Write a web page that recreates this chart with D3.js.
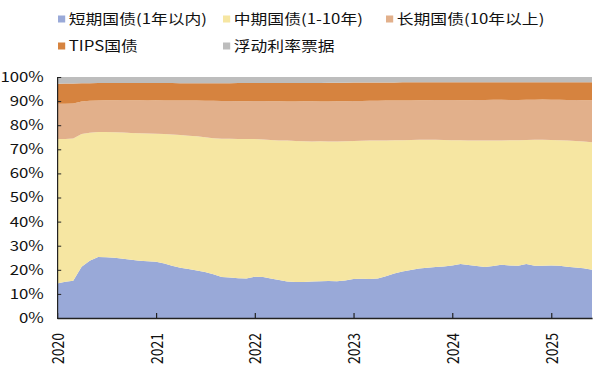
<!DOCTYPE html>
<html>
<head>
<meta charset="utf-8">
<script src="https://cdn.jsdelivr.net/npm/d3@7"></script>
<style>
  html, body { margin: 0; padding: 0; background: #fff; }
  svg { display: block; font-family: "Noto Sans CJK SC", "Noto Sans", sans-serif; }
</style>
</head>
<body>
<div id="chart"></div>
<script>
// ------------------------------------------------------------
// 美国国债存量期限结构 (100% stacked area, monthly)
// ------------------------------------------------------------

const months = [
  '2020-01','2020-02','2020-03','2020-04','2020-05','2020-06','2020-07','2020-08','2020-09','2020-10','2020-11','2020-12',
  '2021-01','2021-02','2021-03','2021-04','2021-05','2021-06','2021-07','2021-08','2021-09','2021-10','2021-11','2021-12',
  '2022-01','2022-02','2022-03','2022-04','2022-05','2022-06','2022-07','2022-08','2022-09','2022-10','2022-11','2022-12',
  '2023-01','2023-02','2023-03','2023-04','2023-05','2023-06','2023-07','2023-08','2023-09','2023-10','2023-11','2023-12',
  '2024-01','2024-02','2024-03','2024-04','2024-05','2024-06','2024-07','2024-08','2024-09','2024-10','2024-11','2024-12',
  '2025-01','2025-02','2025-03','2025-04','2025-05','2025-06'
];

// shares in % of total marketable debt
const shortTerm = [
  14.3,15.0,15.5,21.3,23.8,25.3,25.2,25.0,24.6,24.2,23.8,23.5,
  23.3,22.6,21.7,20.9,20.3,19.7,19.1,18.2,17.0,16.8,16.5,16.4,
  17.1,17.0,16.4,15.8,15.1,14.9,14.9,15.1,15.2,15.4,15.2,15.6,
  16.2,16.3,16.2,16.4,17.3,18.5,19.3,19.9,20.5,20.9,21.2,21.4,
  21.8,22.4,22.0,21.6,21.2,21.6,22.1,21.8,21.7,22.4,21.7,21.7,
  21.8,21.7,21.3,21.0,20.6,20.0
];
const midTerm = [
  60.0,59.3,59.0,55.0,53.1,51.9,52.0,52.1,52.4,52.6,52.9,53.1,
  53.2,53.7,54.4,55.0,55.3,55.7,55.9,56.4,57.4,57.6,57.8,57.9,
  57.2,57.1,57.5,57.9,58.5,58.5,58.4,58.1,58.1,57.8,58.0,57.7,
  57.2,57.2,57.4,57.3,56.4,55.3,54.5,54.0,53.5,53.1,52.8,52.5,
  52.0,51.4,51.7,52.1,52.4,52.0,51.6,52.0,52.1,51.5,52.3,52.3,
  52.1,52.1,52.3,52.4,52.6,52.9
];
const longTerm = [
  14.6,14.6,14.5,13.5,13.2,13.1,13.2,13.3,13.5,13.6,13.7,13.7,
  13.9,14.0,14.2,14.3,14.6,14.8,15.1,15.5,15.6,15.6,15.6,15.6,
  15.7,15.9,16.0,16.2,16.2,16.4,16.6,16.7,16.5,16.6,16.7,16.6,
  16.6,16.5,16.5,16.4,16.5,16.4,16.5,16.4,16.4,16.4,16.5,16.6,
  16.7,16.6,16.7,16.8,16.9,17.0,16.9,16.7,16.7,16.7,16.6,16.7,
  16.7,16.8,16.9,17.1,17.2,17.5
];
const tips = [
  8.3,8.4,8.3,7.6,7.3,7.2,7.1,7.1,7.0,7.1,7.1,7.2,
  7.1,7.2,7.2,7.2,7.2,7.2,7.3,7.3,7.4,7.4,7.6,7.6,
  7.5,7.5,7.6,7.6,7.7,7.7,7.6,7.6,7.7,7.8,7.7,7.7,
  7.7,7.7,7.6,7.6,7.5,7.5,7.5,7.5,7.4,7.4,7.3,7.3,
  7.3,7.4,7.4,7.3,7.3,7.2,7.2,7.3,7.3,7.2,7.2,7.1,
  7.2,7.2,7.3,7.3,7.4,7.4
];
const frn = [
  2.8,2.7,2.7,2.6,2.6,2.5,2.5,2.5,2.5,2.5,2.5,2.5,
  2.5,2.5,2.5,2.6,2.6,2.6,2.6,2.6,2.6,2.6,2.5,2.5,
  2.5,2.5,2.5,2.5,2.5,2.5,2.5,2.5,2.5,2.4,2.4,2.4,
  2.3,2.3,2.3,2.3,2.3,2.3,2.2,2.2,2.2,2.2,2.2,2.2,
  2.2,2.2,2.2,2.2,2.2,2.2,2.2,2.2,2.2,2.2,2.2,2.2,
  2.2,2.2,2.2,2.2,2.2,2.2
];

const seriesNames = ['短期国债(1年以内)', '中期国债(1-10年)', '长期国债(10年以上)', 'TIPS国债', '浮动利率票据'];
const seriesValues = [shortTerm, midTerm, longTerm, tips, frn];
const colors = ['#99a9d8', '#f6e6a2', '#e2b08b', '#d6833f', '#bdbdbd'];
const yTicks = [0, 0.1, 0.2, 0.3, 0.4, 0.5, 0.6, 0.7, 0.8, 0.9, 1];
const yearTicks = ['2020', '2021', '2022', '2023', '2024', '2025'];

// ------------------------------------------------------------
const W = 600, H = 375;
const SX = 1.2;              // the source picture is stretched horizontally
const parse = d3.timeParse('%Y-%m');

const rows = months.map((m, i) => {
    const row = { date: parse(m) };
    seriesValues.forEach((vals, k) => { row[k] = vals[i]; });
    return row;
});

const svg = d3.select('#chart').append('svg')
    .attr('width', W)
    .attr('height', H);

const g = svg.append('g').attr('transform', `scale(${SX},1)`);

const plot = { left: 57 / SX, right: 592 / SX, top: 77, bottom: 318 };

const x = d3.scaleTime()
    .domain([rows[0].date, rows[rows.length - 1].date])
    .range([plot.left, plot.right]);

const y = d3.scaleLinear()
    .domain([0, 1])
    .range([plot.bottom, plot.top]);

const stack = d3.stack()
    .keys(d3.range(seriesValues.length))
    .offset(d3.stackOffsetExpand);

const layers = stack(rows);

const area = d3.area()
    .x(d => x(d.data.date))
    .y0(d => y(d[0]))
    .y1(d => y(d[1]));

g.append('g')
    .selectAll('path')
    .data(layers)
    .join('path')
    .attr('fill', (d, i) => colors[i])
    .attr('d', area);

// Y axis
const yAxis = g.append('g')
    .attr('transform', `translate(${plot.left},0)`)
    .call(d3.axisLeft(y)
        .tickValues(yTicks)
        .tickFormat(d3.format('.0%'))
        .tickSizeInner(-3.5)
        .tickSizeOuter(0)
        .tickPadding(11));
yAxis.select('.domain').attr('stroke', '#222');
yAxis.selectAll('.tick line').attr('stroke', '#222');
yAxis.selectAll('text')
    .attr('font-size', '14px')
    .attr('fill', '#111')
    .attr('font-family', '"Noto Sans CJK SC", sans-serif');

// X axis
const xAxis = g.append('g')
    .attr('transform', `translate(0,${plot.bottom})`)
    .call(d3.axisBottom(x)
        .tickValues(yearTicks.map(t => d3.timeParse('%Y')(t)))
        .tickFormat(d3.timeFormat('%Y'))
        .tickSizeInner(-5)
        .tickSizeOuter(0));
xAxis.select('.domain').attr('stroke', '#222').attr('stroke-width', 1.3);
xAxis.selectAll('.tick line').attr('stroke', '#222');
xAxis.selectAll('text')
    .attr('font-size', '14px')
    .attr('fill', '#111')
    .attr('font-family', '"Noto Sans CJK SC", sans-serif')
    .attr('text-anchor', 'end')
    .attr('transform', 'rotate(-90)')
    .attr('x', -15)
    .attr('y', 0)
    .attr('dy', '0.36em');

// Legend
const legendPos = [
    [58, 19], [223, 19], [386, 19],
    [58, 46], [223, 46]
];
const legend = g.append('g')
    .selectAll('g')
    .data(seriesNames)
    .join('g')
    .attr('transform', (d, i) => `translate(${legendPos[i][0] / SX},${legendPos[i][1]})`);

legend.append('rect')
    .attr('x', 0)
    .attr('y', -3.5)
    .attr('width', 6)
    .attr('height', 7)
    .attr('fill', (d, i) => colors[i]);

legend.append('text')
    .attr('x', 9)
    .attr('dy', '0.35em')
    .attr('font-size', '14px')
    .attr('fill', '#111')
    .text(d => d);
</script>
</body>
</html>
